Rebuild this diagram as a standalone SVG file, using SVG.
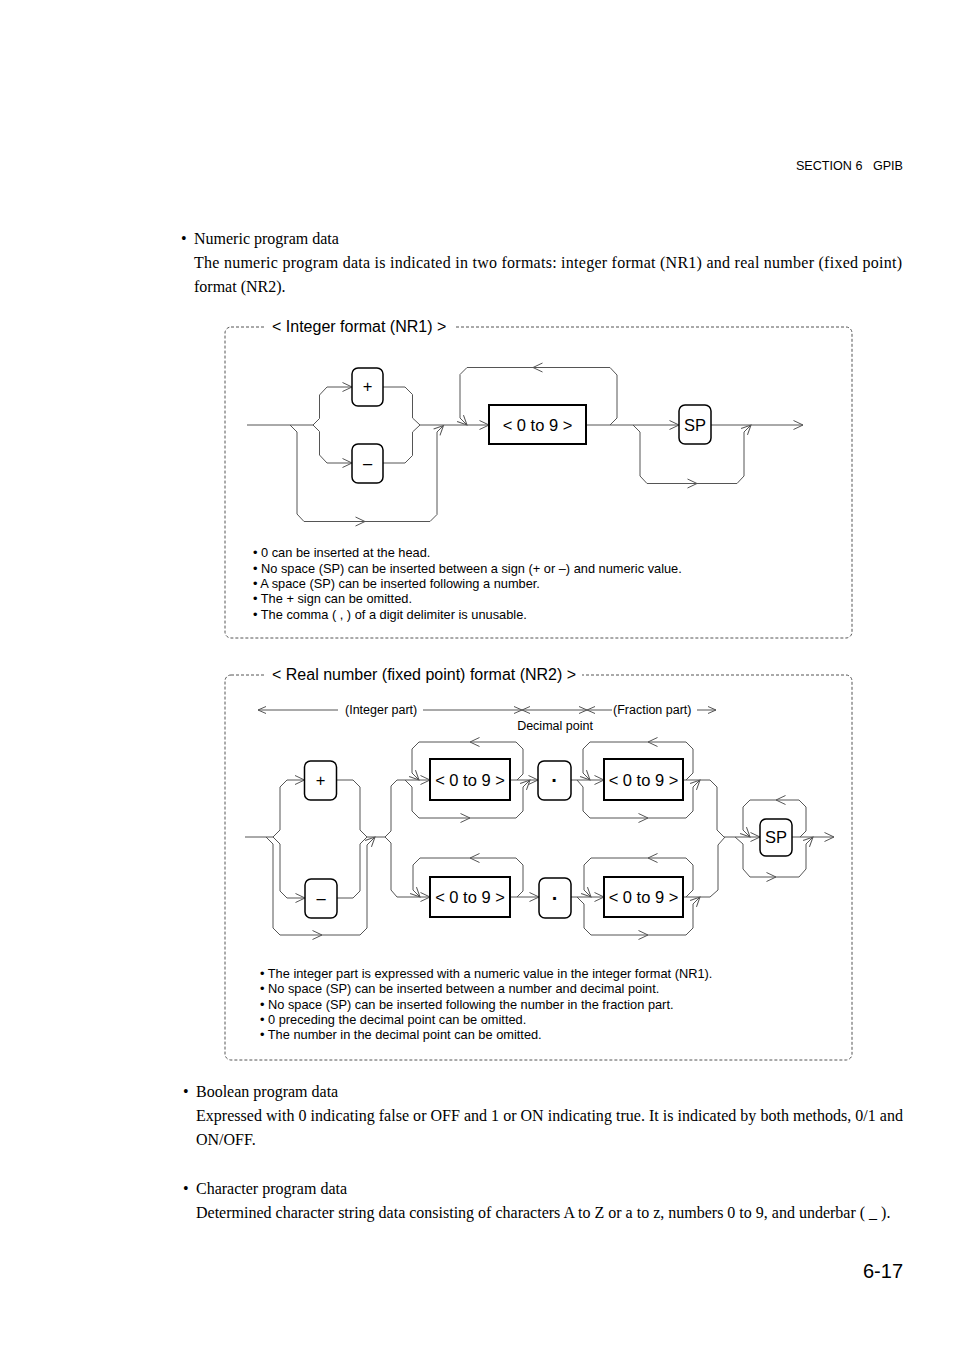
<svg xmlns="http://www.w3.org/2000/svg" xmlns:xlink="http://www.w3.org/1999/xlink" width="954" height="1351" viewBox="0 0 954 1351">
<style>
.body{font-family:"Liberation Serif","Times New Roman",serif;font-size:16px;fill:#000}
.sans{font-family:"Liberation Sans",Arial,sans-serif;fill:#000}
.lbl{font-family:"Liberation Sans",Arial,sans-serif;font-size:16.5px;fill:#000;text-anchor:middle;dominant-baseline:central}
.note{font-family:"Liberation Sans",Arial,sans-serif;font-size:12.8px;fill:#000}
.small{font-family:"Liberation Sans",Arial,sans-serif;font-size:12.5px;fill:#000}
.ln{fill:none;stroke:#555;stroke-width:1}
.rbox{fill:#fff;stroke:#000;stroke-width:1.5}
.sbox{fill:#fff;stroke:#000;stroke-width:2}
.frame{fill:none;stroke:#555;stroke-width:1;stroke-dasharray:3 2}
.dot{font-family:"Liberation Sans",Arial,sans-serif;font-size:20px;font-weight:bold;fill:#000;text-anchor:middle;dominant-baseline:central}
</style>
<defs>
<path id="ch" d="M-9.5,-4.5 L0,0 L-9.5,4.5" fill="none" stroke="#555" stroke-width="1"/>
<path id="chs" d="M-8,-3.5 L0,0 L-8,3.5" fill="none" stroke="#555" stroke-width="1"/>
</defs>
<rect width="954" height="1351" fill="#fff"/>

<text class="sans" x="903" y="169.5" font-size="12.6" text-anchor="end" xml:space="preserve" style="white-space:pre">SECTION 6   GPIB</text>

<g id="text-numeric">
<text class="body" x="181" y="244">•</text>
<text class="body" x="194" y="244">Numeric program data</text>
<text class="body" x="194" y="268" textLength="708" lengthAdjust="spacing">The numeric program data is indicated in two formats: integer format (NR1) and real number (fixed point)</text>
<text class="body" x="194" y="292">format (NR2).</text>
</g>

<!-- NR1 frame -->
<g id="nr1-frame">
<rect class="frame" x="225" y="327" width="627" height="311" rx="6"/>
<rect x="266" y="318" width="188" height="18" fill="#fff"/>
<text class="sans" x="272" y="331.5" font-size="16">&lt; Integer format (NR1) &gt;</text>
</g>

<g id="nr1-connectors">
<path class="ln" d="M247,425 H313"/>
<path class="ln" d="M313,425 L319.5,418.5 V395 L327,387 H352"/>
<path class="ln" d="M313,425 L319.5,431.5 V455 L327,463 H352"/>
<path class="ln" d="M383,387 H405 L412.5,394.5 V418 L420,425"/>
<path class="ln" d="M383,463 H405 L412.5,455.5 V432 L420,425"/>
<path class="ln" d="M420,425 H489"/>
<path class="ln" d="M290,425 L297,432 V514 L304,521.5 H430 L437,514.5 V432 L443.5,425.5"/>
<path class="ln" d="M610,425 L617,418 V375 L610,367.5 H467 L460,374.5 V418 L467,425"/>
<path class="ln" d="M586,425 H679"/>
<path class="ln" d="M633,425 L640,432 V476 L647,483.5 H737 L744,476 V432 L751,425"/>
<path class="ln" d="M711,425 H803"/>
<use xlink:href="#ch" transform="translate(352,387)"/>
<use xlink:href="#ch" transform="translate(352,463)"/>
<use xlink:href="#ch" transform="translate(489,425)"/>
<use xlink:href="#ch" transform="translate(365,521.5)"/>
<use xlink:href="#ch" transform="translate(443.5,425.5) rotate(-45)"/>
<use xlink:href="#ch" transform="translate(533,367.5) rotate(180)"/>
<use xlink:href="#ch" transform="translate(467,425) rotate(45)"/>
<use xlink:href="#ch" transform="translate(679,425)"/>
<use xlink:href="#ch" transform="translate(697,483.5)"/>
<use xlink:href="#ch" transform="translate(751,425) rotate(-45)"/>
<use xlink:href="#ch" transform="translate(803,425)"/>
</g>

<g id="nr1-plus"><rect class="rbox" x="352" y="368" width="31" height="38" rx="6"/><text class="lbl" x="367.5" y="386">+</text></g>
<g id="nr1-minus"><rect class="rbox" x="352" y="444" width="31" height="39" rx="6"/><text class="lbl" x="367.5" y="463">–</text></g>
<g id="nr1-digits"><rect class="sbox" x="489" y="405" width="97" height="39"/><text class="lbl" x="537.5" y="424.5">&lt; 0 to 9 &gt;</text></g>
<g id="nr1-sp"><rect class="rbox" x="679" y="405" width="32" height="39" rx="6"/><text class="lbl" x="695" y="424.5" font-size="17">SP</text></g>

<g id="nr1-notes">
<text class="note" x="253" y="557">• 0 can be inserted at the head.</text>
<text class="note" x="253" y="572.5">• No space (SP) can be inserted between a sign (+ or –) and numeric value.</text>
<text class="note" x="253" y="588">• A space (SP) can be inserted following a number.</text>
<text class="note" x="253" y="603">• The + sign can be omitted.</text>
<text class="note" x="253" y="618.5">• The comma ( , ) of a digit delimiter is unusable.</text>
</g>

<!-- NR2 frame -->
<g id="nr2-frame">
<rect class="frame" x="225" y="675" width="627" height="385" rx="6"/>
<rect x="266" y="666" width="316" height="18" fill="#fff"/>
<text class="sans" x="272" y="679.5" font-size="16">&lt; Real number (fixed point) format (NR2) &gt;</text>
</g>

<g id="nr2-labels">
<path class="ln" d="M258,710 H338"/>
<use xlink:href="#chs" transform="translate(258,710) rotate(180)"/>
<text class="small" x="345" y="714">(Integer part)</text>
<path class="ln" d="M423,710 H612"/>
<use xlink:href="#chs" transform="translate(522,710)"/>
<use xlink:href="#chs" transform="translate(522,710) rotate(180)"/>
<use xlink:href="#chs" transform="translate(587,710)"/>
<use xlink:href="#chs" transform="translate(587,710) rotate(180)"/>
<text class="small" x="613" y="714">(Fraction part)</text>
<path class="ln" d="M697,710 H716"/>
<use xlink:href="#chs" transform="translate(716,710)"/>
<text class="small" x="555" y="730" text-anchor="middle">Decimal point</text>
</g>

<g id="nr2-connectors">
<path class="ln" d="M245,837 H273"/>
<path class="ln" d="M273,837 L280,830 V787 L287,780 H304.5"/>
<path class="ln" d="M273,837 L280,844 V891 L287,898 H305"/>
<path class="ln" d="M266,837 L273,844 V928 L280,935 H360 L367,928 V845 L375,837"/>
<path class="ln" d="M337,780 H353 L360,787 V830 L367,837"/>
<path class="ln" d="M337,898 H353 L360,891 V844 L367,837"/>
<path class="ln" d="M367,837 H385"/>
<path class="ln" d="M385,837 L391,831 V786 L397,780 H430"/>
<path class="ln" d="M385,837 L391,843 V890 L397,897 H430"/>
<!-- row 1 -->
<path class="ln" d="M517,780 L523,774 V749 L516,742 H419 L412,749 V773 L419,780"/>
<path class="ln" d="M405,780 L412,787 V811 L419,818 H516 L523,811 V787 L530,780"/>
<path class="ln" d="M510,780 H538"/>
<path class="ln" d="M571,780 H604"/>
<path class="ln" d="M686,780 L693,773 V749 L686,742 H590 L583,749 V773 L590,780"/>
<path class="ln" d="M577,780 L583,787 V811 L590,818 H686 L693,811 V787 L700,780"/>
<path class="ln" d="M683,780 H710 L717,787 V830 L724,837"/>
<!-- row 2 -->
<path class="ln" d="M517,897 L523,891 V865 L516,858 H420 L413,865 V890 L420,897"/>
<path class="ln" d="M510,897 H539"/>
<path class="ln" d="M571,897 H604"/>
<path class="ln" d="M686,897 L693,890 V865 L686,858 H591 L584,865 V890 L591,897"/>
<path class="ln" d="M577,897 L584,904 V928 L591,935 H686 L693,928 V904 L700,897"/>
<path class="ln" d="M683,897 H710 L718,890 V845 L725,837"/>
<!-- SP -->
<path class="ln" d="M724,837 H760"/>
<path class="ln" d="M800,837 L806,831 V807 L799,800 H750 L743,807 V830 L750,837"/>
<path class="ln" d="M735,837 L743,844 V869 L750,877 H799 L806,869 V844 L813,837"/>
<path class="ln" d="M792,837 H834"/>
<!-- arrowheads -->
<use xlink:href="#ch" transform="translate(304.5,780)"/>
<use xlink:href="#ch" transform="translate(305,898)"/>
<use xlink:href="#ch" transform="translate(322,935)"/>
<use xlink:href="#ch" transform="translate(375,837) rotate(-45)"/>
<use xlink:href="#ch" transform="translate(430,780)"/>
<use xlink:href="#ch" transform="translate(430,897)"/>
<use xlink:href="#ch" transform="translate(470,742) rotate(180)"/>
<use xlink:href="#ch" transform="translate(419,780) rotate(45)"/>
<use xlink:href="#ch" transform="translate(470,818)"/>
<use xlink:href="#ch" transform="translate(530,780) rotate(-45)"/>
<use xlink:href="#ch" transform="translate(538,780)"/>
<use xlink:href="#ch" transform="translate(604,780)"/>
<use xlink:href="#ch" transform="translate(648,742) rotate(180)"/>
<use xlink:href="#ch" transform="translate(590,780) rotate(45)"/>
<use xlink:href="#ch" transform="translate(648,818)"/>
<use xlink:href="#ch" transform="translate(700,780) rotate(-45)"/>
<use xlink:href="#ch" transform="translate(470,858) rotate(180)"/>
<use xlink:href="#ch" transform="translate(420,897) rotate(45)"/>
<use xlink:href="#ch" transform="translate(539,897)"/>
<use xlink:href="#ch" transform="translate(604,897)"/>
<use xlink:href="#ch" transform="translate(648,858) rotate(180)"/>
<use xlink:href="#ch" transform="translate(591,897) rotate(45)"/>
<use xlink:href="#ch" transform="translate(648,935)"/>
<use xlink:href="#ch" transform="translate(700,897) rotate(-45)"/>
<use xlink:href="#ch" transform="translate(760,837)"/>
<use xlink:href="#ch" transform="translate(776,800) rotate(180)"/>
<use xlink:href="#ch" transform="translate(750,837) rotate(45)"/>
<use xlink:href="#ch" transform="translate(776,877)"/>
<use xlink:href="#ch" transform="translate(813,837) rotate(-45)"/>
<use xlink:href="#ch" transform="translate(834,837)"/>
</g>

<g id="nr2-plus"><rect class="rbox" x="304.5" y="761" width="32" height="39" rx="6"/><text class="lbl" x="320.5" y="780">+</text></g>
<g id="nr2-minus"><rect class="rbox" x="305" y="879" width="32" height="39" rx="6"/><text class="lbl" x="321" y="898">–</text></g>
<g id="nr2-int1"><rect class="sbox" x="430" y="759" width="80" height="41"/><text class="lbl" x="470" y="779.5">&lt; 0 to 9 &gt;</text></g>
<g id="nr2-dot1"><rect class="rbox" x="538" y="761" width="33" height="39" rx="6"/><text class="dot" x="554.5" y="780">·</text></g>
<g id="nr2-frac1"><rect class="sbox" x="604" y="759" width="79" height="41"/><text class="lbl" x="643.5" y="779.5">&lt; 0 to 9 &gt;</text></g>
<g id="nr2-int2"><rect class="sbox" x="430" y="877" width="80" height="40"/><text class="lbl" x="470" y="896.5">&lt; 0 to 9 &gt;</text></g>
<g id="nr2-dot2"><rect class="rbox" x="539" y="878" width="32" height="40" rx="6"/><text class="dot" x="555" y="897.5">·</text></g>
<g id="nr2-frac2"><rect class="sbox" x="604" y="877" width="79" height="40"/><text class="lbl" x="643.5" y="896.5">&lt; 0 to 9 &gt;</text></g>
<g id="nr2-sp"><rect class="rbox" x="760" y="819" width="32" height="37" rx="6"/><text class="lbl" x="776" y="836.5" font-size="17">SP</text></g>

<g id="nr2-notes">
<text class="note" x="260" y="977.5">• The integer part is expressed with a numeric value in the integer format (NR1).</text>
<text class="note" x="260" y="993">• No space (SP) can be inserted between a number and decimal point.</text>
<text class="note" x="260" y="1008.5">• No space (SP) can be inserted following the number in the fraction part.</text>
<text class="note" x="260" y="1024">• 0 preceding the decimal point can be omitted.</text>
<text class="note" x="260" y="1039">• The number in the decimal point can be omitted.</text>
</g>

<g id="text-boolean">
<text class="body" x="183" y="1097">•</text>
<text class="body" x="196" y="1097">Boolean program data</text>
<text class="body" x="196" y="1121" textLength="707" lengthAdjust="spacing">Expressed with 0 indicating false or OFF and 1 or ON indicating true.  It is indicated by both methods, 0/1 and</text>
<text class="body" x="196" y="1145">ON/OFF.</text>
</g>

<g id="text-character">
<text class="body" x="183" y="1194">•</text>
<text class="body" x="196" y="1194">Character program data</text>
<text class="body" x="196" y="1218">Determined character string data consisting of characters A to Z or a to z, numbers 0 to 9, and underbar ( _ ).</text>
</g>

<text class="sans" x="903" y="1278" font-size="20" text-anchor="end">6-17</text>
</svg>
